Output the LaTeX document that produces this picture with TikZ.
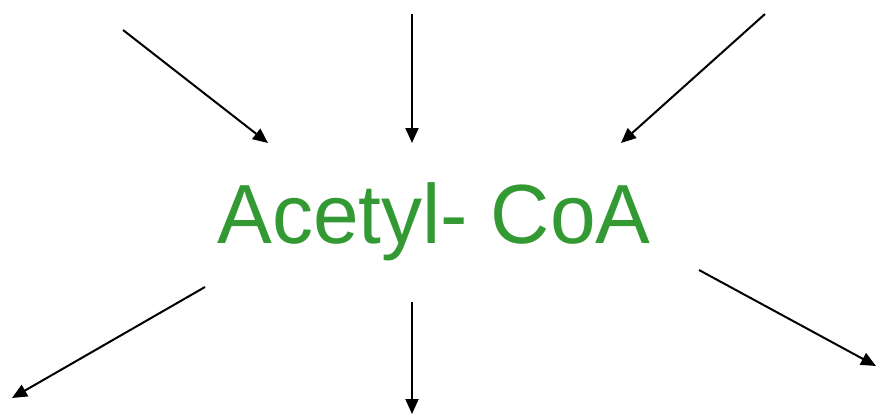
\documentclass[tikz,border=0pt]{standalone}
\usepackage{fontspec}
\setmainfont{Liberation Sans}
\usetikzlibrary{arrows.meta}
\definecolor{acgreen}{HTML}{339933}
\begin{document}
\begin{tikzpicture}[x=1pt,y=-1pt,
  flow/.style={draw=black,line width=2pt,-{Triangle[length=15pt,width=13pt]}}]
\useasboundingbox (0,0) rectangle (882,418);
\node[anchor=base,inner sep=0pt,text=acgreen,font=\fontsize{84}{90}\selectfont] (acoa) at (434,243) {\scalebox{0.977}[1]{Acetyl- CoA}};
\coordinate (i1s) at (123,30);  \coordinate (i1e) at (268,143);
\coordinate (i2s) at (412,14);  \coordinate (i2e) at (412,143);
\coordinate (i3s) at (765,14);  \coordinate (i3e) at (621,143);
\coordinate (o1s) at (205,287); \coordinate (o1e) at (12,398);
\coordinate (o2s) at (412,302); \coordinate (o2e) at (412,414);
\coordinate (o3s) at (699,270); \coordinate (o3e) at (876,366);
\draw[flow] (i1s) -- (i1e);
\draw[flow] (i2s) -- (i2e);
\draw[flow] (i3s) -- (i3e);
\draw[flow] (o1s) -- (o1e);
\draw[flow] (o2s) -- (o2e);
\draw[flow] (o3s) -- (o3e);
\end{tikzpicture}
\end{document}
